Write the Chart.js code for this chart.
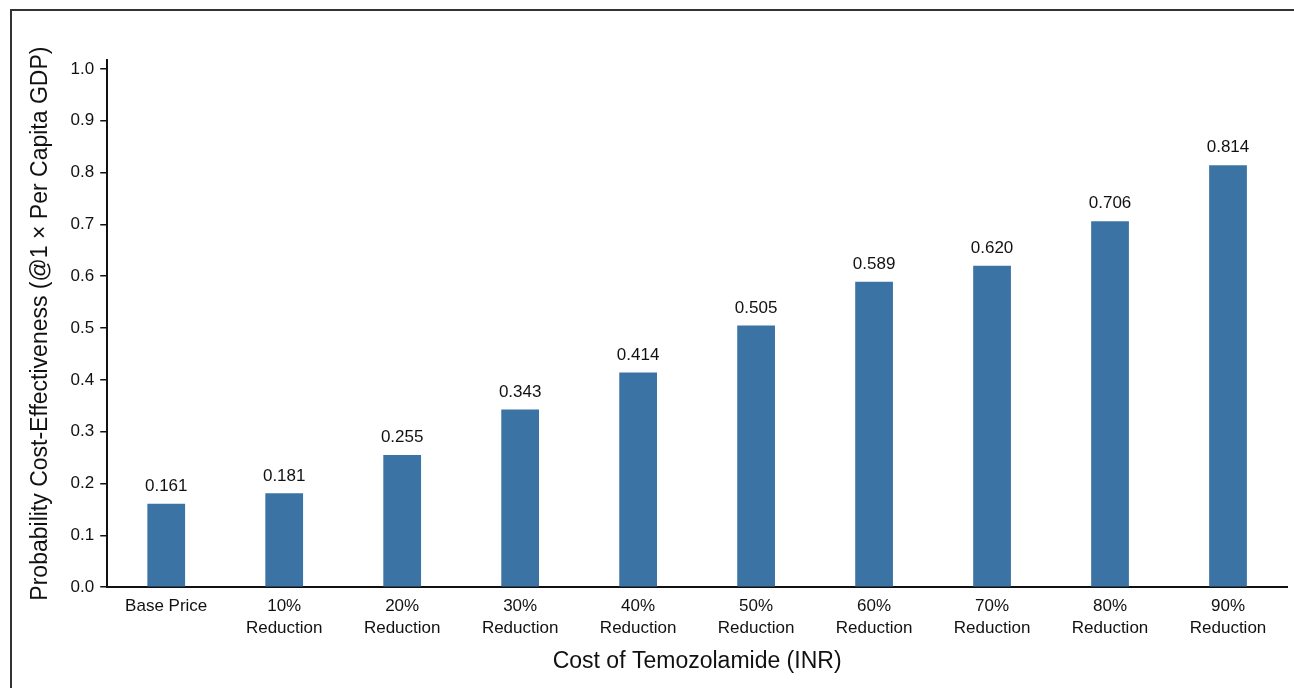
<!DOCTYPE html>
<html>
<head>
<meta charset="utf-8">
<script src="https://cdn.jsdelivr.net/npm/chart.js@4"></script>
<style>
    html, body { margin: 0; padding: 0; background: #fff; }
    #wrap { position: relative; width: 1294px; height: 688px; overflow: hidden; }
    #frame { position: absolute; left: 10px; top: 9px; width: 1400px; height: 800px; border-left: 2px solid #333; border-top: 2px solid #333; }
    #grafico { position: absolute; left: 0; top: 0; }
</style>
</head>
<body>
<div id="wrap">
    <div id="frame"></div>
    <canvas id="grafico" width="1294" height="688"></canvas>
</div>
<script>
// Probabilidade de custo-efetividade por redução de preço

const categorias = [
    "Base Price",
    ["10%", "Reduction"],
    ["20%", "Reduction"],
    ["30%", "Reduction"],
    ["40%", "Reduction"],
    ["50%", "Reduction"],
    ["60%", "Reduction"],
    ["70%", "Reduction"],
    ["80%", "Reduction"],
    ["90%", "Reduction"]
];

const probabilidades = [0.161, 0.181, 0.255, 0.343, 0.414, 0.505, 0.589, 0.620, 0.706, 0.814];

const ticksY = [0, 0.1, 0.2, 0.3, 0.4, 0.5, 0.6, 0.7, 0.8, 0.9, 1.0];

const fonteBase = "'Liberation Sans', Arial, sans-serif";
const fonteTitulo = "'Liberation Sans Narrow', 'Liberation Sans', Arial, sans-serif";

// rótulos acima das barras
const rotulosBarras = {
    id: "rotulosBarras",
    afterDatasetsDraw(chart) {
        const ctx = chart.ctx;
        const meta = chart.getDatasetMeta(0);
        ctx.save();
        ctx.font = "17px " + fonteBase;
        ctx.fillStyle = "#111";
        ctx.textAlign = "center";
        ctx.textBaseline = "bottom";
        meta.data.forEach((barra, i) => {
            ctx.fillText(probabilidades[i].toFixed(3), barra.x, barra.y - 9);
        });
        ctx.restore();
    }
};

new Chart(document.getElementById("grafico"), {
    type: "bar",
    data: {
        labels: categorias,
        datasets: [{
            data: probabilidades,
            backgroundColor: "#3b74a4",
            barPercentage: 0.32,
            categoryPercentage: 1.0
        }]
    },
    options: {
        responsive: false,
        animation: false,
        layout: { padding: { top: 60, right: 7, bottom: 13, left: 27 } },
        plugins: {
            legend: { display: false },
            tooltip: { enabled: false }
        },
        scales: {
            x: {
                grid: { display: false },
                border: { color: "#111", width: 2 },
                ticks: { color: "#111", font: { size: 17, family: fonteBase, lineHeight: 1.3 }, padding: 0, maxRotation: 0, autoSkip: false },
                title: {
                    display: true,
                    text: "Cost of Temozolamide (INR)",
                    color: "#111",
                    font: { size: 23, family: fonteTitulo },
                    padding: { top: 8, bottom: 0 }
                }
            },
            y: {
                min: 0,
                max: 1.017,
                afterBuildTicks: axis => { axis.ticks = ticksY.map(v => ({ value: v })); },
                grid: { drawOnChartArea: false, drawTicks: true, tickLength: 7, color: "#111", lineWidth: 1.5 },
                border: { color: "#111", width: 2 },
                ticks: { color: "#111", font: { size: 17, family: fonteBase }, padding: 6, callback: v => v.toFixed(1) },
                title: {
                    display: true,
                    text: "Probability Cost-Effectiveness (@1 × Per Capita GDP)",
                    color: "#111",
                    font: { size: 23, family: fonteTitulo },
                    padding: { top: 0, bottom: 10 }
                }
            }
        }
    },
    plugins: [rotulosBarras]
});
</script>
</body>
</html>
